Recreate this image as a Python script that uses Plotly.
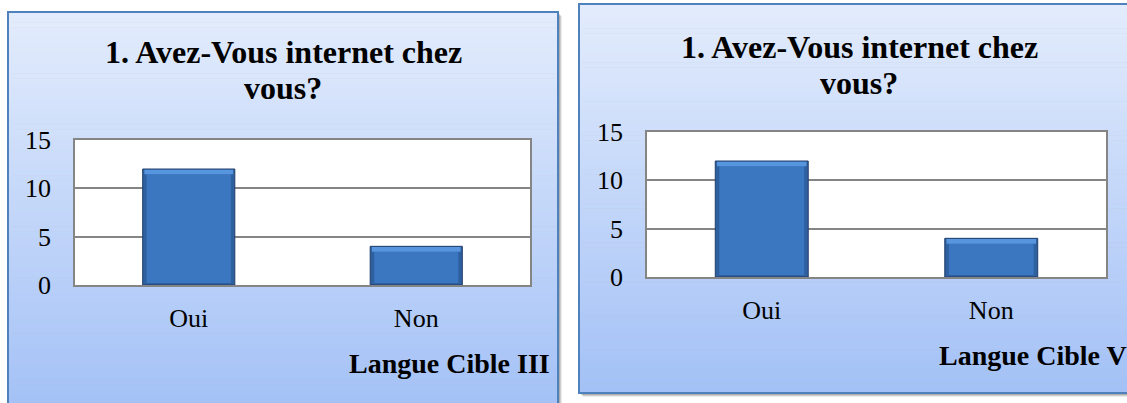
import plotly.graph_objects as go

# ---------------- data ----------------
categories = ["Oui", "Non"]
values_left = [12, 4]
values_right = [12, 4]
y_ticks = [0, 5, 10, 15]
title_line1 = "1. Avez-Vous internet chez"
title_line2 = "vous?"
axis_title_left = "Langue Cible III"
axis_title_right = "Langue Cible V"

W, H = 1127, 403
FONT = "Liberation Serif"


def px(x):
    return x / W


def py(y):
    return 1 - y / H


def lerp_color(c1, c2, t):
    return "rgb(%d,%d,%d)" % tuple(round(a + (b - a) * t) for a, b in zip(c1, c2))


TOP_C = (227, 236, 252)
BOT_C = (163, 193, 246)

shapes = []


def panel(x0, y0, x1, y1, grad_y1):
    # shadow
    for off, a in ((4, 0.08), (3, 0.12), (2, 0.16)):
        shapes.append(dict(type="rect", xref="paper", yref="paper", layer="below",
                           x0=px(x0 + off), x1=px(x1 + off), y0=py(y1 + off), y1=py(y0 + off),
                           fillcolor="rgba(0,0,0,%s)" % a, line=dict(width=0)))
    n = 80
    for i in range(n):
        ya = y0 + (y1 - y0) * i / n
        yb = y0 + (y1 - y0) * (i + 1) / n
        t = ((ya + yb) / 2 - y0) / (grad_y1 - y0)
        shapes.append(dict(type="rect", xref="paper", yref="paper", layer="below",
                           x0=px(x0), x1=px(x1), y0=py(yb + 0.5), y1=py(ya),
                           fillcolor=lerp_color(TOP_C, BOT_C, min(t, 1)), line=dict(width=0)))
    shapes.append(dict(type="rect", xref="paper", yref="paper", layer="below",
                       x0=px(x0), x1=px(x1), y0=py(y1), y1=py(y0),
                       fillcolor="rgba(0,0,0,0)", line=dict(color="#4f81bd", width=2)))


panel(8, 12, 558, 420, 410)
panel(579, 4, 1140, 393, 393)

# white plot areas
for ax in ("", "2"):
    shapes.append(dict(type="rect", xref="x%s domain" % ax, yref="y%s domain" % ax, layer="below",
                       x0=0, x1=1, y0=0, y1=1, fillcolor="white", line=dict(width=0)))

EDGE_COLOR = "#2e5f9f"
EDGE_LINE = "#203f6a"
BODY_COLOR = "#3b76c0"
HIGHLIGHT = "#5795de"
bevel = 0.55
bottom_bevel = 0.2

fig = go.Figure()
for vals, xa, ya in ((values_left, "x", "y"), (values_right, "x2", "y2")):
    # outer (darker edges)
    fig.add_trace(go.Bar(x=categories, y=vals, xaxis=xa, yaxis=ya, width=0.405,
                         marker=dict(color=EDGE_COLOR, line=dict(color=EDGE_LINE, width=1)),
                         showlegend=False, hoverinfo="skip"))
    # inner body
    fig.add_trace(go.Bar(x=categories, y=[v - bevel - bottom_bevel for v in vals],
                         base=[bottom_bevel] * len(vals), xaxis=xa, yaxis=ya, width=0.37,
                         marker=dict(color=BODY_COLOR, line=dict(width=0)),
                         showlegend=False, hoverinfo="skip"))
    # top bevel highlight
    fig.add_trace(go.Bar(x=categories, y=[bevel - 0.08] * len(vals),
                         base=[v - bevel for v in vals], xaxis=xa, yaxis=ya, width=0.39,
                         marker=dict(color=HIGHLIGHT, line=dict(width=0)),
                         showlegend=False, hoverinfo="skip"))

grid = "#858585"
xcommon = dict(type="category", showgrid=False, showline=True, linecolor=grid, linewidth=1.5,
               mirror=True, ticks="", tickfont=dict(family=FONT, size=26, color="black"),
               ticklabelstandoff=9, fixedrange=True, automargin=False)
ycommon = dict(range=[0, 15], tickvals=y_ticks, showgrid=True, gridcolor=grid, gridwidth=1.5,
               showline=True, linecolor=grid, linewidth=1.5, mirror=True, ticks="",
               zeroline=False, tickfont=dict(family=FONT, size=26, color="black"),
               ticklabelstandoff=17, fixedrange=True, automargin=False)

annotations = []


def add_text(text, x, y_center, size, bold=True, xanchor="center"):
    annotations.append(dict(text=("<b>%s</b>" % text) if bold else text, x=px(x), y=py(y_center),
                            xref="paper", yref="paper", xanchor=xanchor, yanchor="middle",
                            showarrow=False, font=dict(family=FONT, size=size, color="black")))


add_text(title_line1, 283, 51.5, 32)
add_text(title_line2, 283, 87.5, 32)
add_text(title_line1, 859, 46.5, 32)
add_text(title_line2, 859, 82.5, 32)
add_text(axis_title_left, 552, 363, 28, xanchor="right")
add_text(axis_title_right, 937, 355.5, 28, xanchor="left")

fig.update_layout(
    width=W, height=H, margin=dict(l=0, r=0, t=0, b=0, pad=0, autoexpand=False),
    paper_bgcolor="white", plot_bgcolor="rgba(0,0,0,0)",
    barmode="overlay",
    xaxis=dict(domain=[px(75), px(530)], anchor="y", **xcommon),
    yaxis=dict(domain=[py(285), py(140)], anchor="x", **ycommon),
    xaxis2=dict(domain=[px(647), px(1106)], anchor="y2", **xcommon),
    yaxis2=dict(domain=[py(277), py(132)], anchor="x2", **ycommon),
    shapes=shapes, annotations=annotations,
)

fig.write_html("out.html", config={"displayModeBar": False},
               post_script="document.body.style.margin='0px';")
